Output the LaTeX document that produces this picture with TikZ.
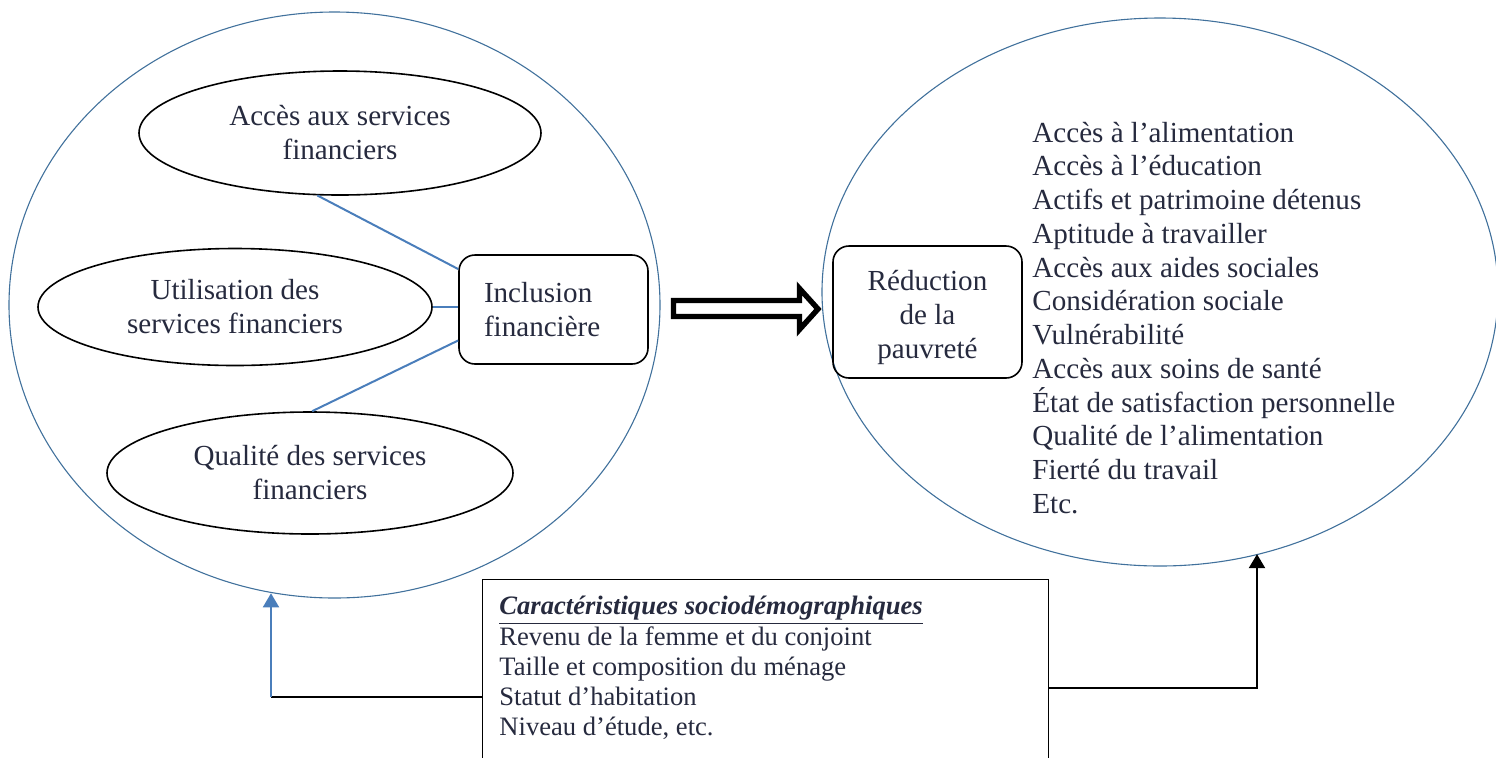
\documentclass[tikz,border=0pt]{standalone}
\usepackage{fontspec}
\setmainfont{Liberation Serif}
\usetikzlibrary{shapes.geometric,arrows.meta,calc}
\definecolor{ink}{HTML}{262A3E}
\definecolor{rim}{HTML}{41719C}
\definecolor{wireblue}{HTML}{4A7EBB}
\newcommand{\labfont}{\fontsize{14.55}{17}\selectfont}
\newcommand{\socfont}{\fontsize{13.3}{15.1}\selectfont}
\tikzset{
  zone/.style={ellipse, draw=rim, line width=0.55pt, inner sep=0pt},
  oval/.style={ellipse, draw=black, line width=0.8pt, inner sep=0pt, align=center, text=ink, font=\labfont},
  rbox/.style={draw=black, line width=0.8pt, rounded corners=8pt, minimum width=94.5pt, text=ink, font=\labfont},
  item/.style={anchor=base west, inner sep=0pt, text=ink, font=\labfont},
  sociobox/.style={draw=black, line width=0.7pt, minimum width=283pt, minimum height=100pt, inner sep=0pt},
  socioline/.style={inner sep=0pt, align=left, text=ink, font=\socfont},
  link/.style={draw=wireblue, line width=1pt},
  wire/.style={draw=black, line width=1.1pt},
  hollow/.style={draw=black, line width=2.7pt, fill=white, line join=miter},
  tip/.style={-{Triangle[width=8pt,length=7pt]}},
}

\begin{document}
\begin{tikzpicture}[x=0.5pt,y=-0.5pt]
  \useasboundingbox (0,0) rectangle (1496,757);
  \clip (0,0) rectangle (1496,757);

  % the two zones
  \node[zone, minimum width=325.5pt, minimum height=293pt] (finance) at (334.5,305) {};
  \node[zone, minimum width=338pt, minimum height=274pt] (pauvrete) at (1160,292) {};

  % dimensions of financial inclusion
  \node[oval, minimum width=201pt, minimum height=62pt] (acces) at (340,133) {Accès aux services\\financiers};
  \node[oval, minimum width=197pt, minimum height=58.5pt] (usage) at (235,307) {Utilisation des\\services financiers};
  \node[oval, minimum width=203pt, minimum height=61pt] (qualite) at (310,473) {Qualité des services\\financiers};

  \node[rbox, minimum height=54.5pt, text width=69.5pt, inner xsep=12.5pt, align=left] (incl) at (553.5,309.5) {Inclusion\\financière};
  \node[rbox, minimum height=66pt, align=center] (reduc) at (927.5,312) {\rule{0pt}{16pt}Réduction\\de la\\pauvreté};

  \draw[link] (acces.250) -- (incl.157);
  \draw[link] (usage.east) -- (usage.east -| incl.west);
  \draw[link] (qualite.88) -- (incl.198);

  % block arrow between the zones
  \draw[hollow] (673.5,300.5) -- (799.5,300.5) -- (799.5,288.5) -- (818,309)
    -- (799.5,329.5) -- (799.5,316.5) -- (673.5,316.5) -- cycle;

  % poverty indicators
  \foreach \t [count=\i] in {Accès à l’alimentation, Accès à l’éducation,
      Actifs et patrimoine détenus, Aptitude à travailler,
      Accès aux aides sociales, Considération sociale, Vulnérabilité,
      Accès aux soins de santé, État de satisfaction personnelle,
      Qualité de l’alimentation, Fierté du travail, Etc.}
    \node[item] (eff\i) at (1032,{142+33.75*(\i-1)}) {\t};

  % control variables
  \node[sociobox, anchor=north west] (socio) at (482,579) {};
  \node[socioline, anchor=north west] (socioText) at ($(socio.north west)+(17,17)$)
    {\underline{\textbf{\textit{Caractéristiques sociodémographiques}}}\\
     Revenu de la femme et du conjoint\\
     Taille et composition du ménage\\
     Statut d’habitation\\
     Niveau d’étude, etc.};

  \coordinate (jL) at (271,697);
  \coordinate (jR) at (1257,688);
  \draw[wire] (jL -| socio.west) -- (jL);
  \draw[link, -{Triangle[width=8pt,length=7pt,fill=wireblue]}] (jL) -- (jL |- finance.258);
  \draw[wire, tip] (jR -| socio.east) -- (jR) -- (jR |- pauvrete.291);
\end{tikzpicture}
\end{document}
